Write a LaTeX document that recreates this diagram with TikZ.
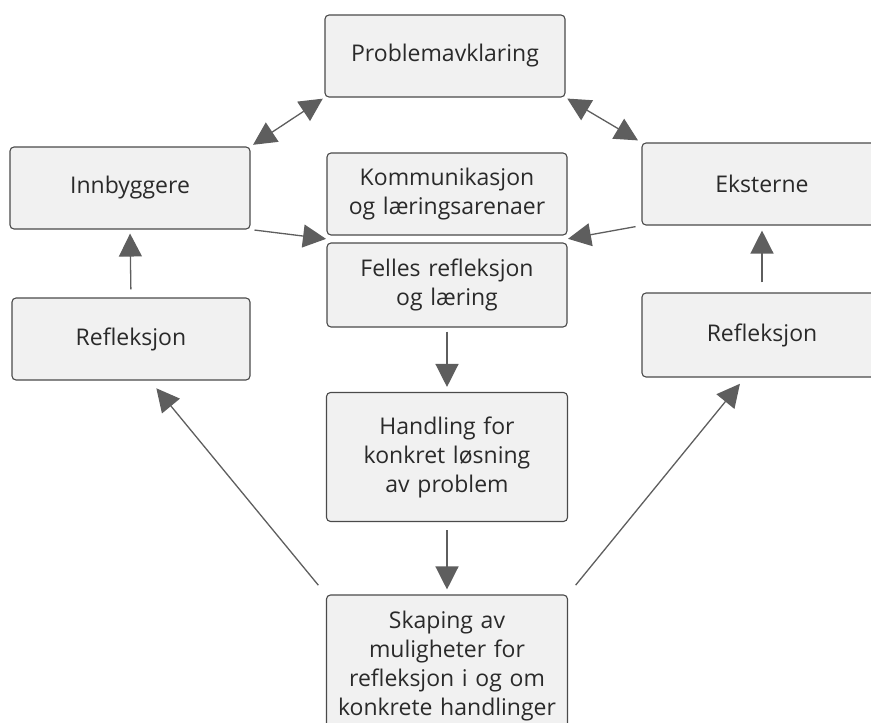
\documentclass[tikz,border=0pt]{standalone}
\usepackage{fontspec}
\setmainfont{Open Sans}
\usetikzlibrary{arrows.meta}
\definecolor{boksfarge}{HTML}{F1F1F1}
\definecolor{linjefarge}{HTML}{5E5E5E}
\definecolor{tekstfarge}{HTML}{2A2A2A}
\begin{document}
\begin{tikzpicture}[x=1pt, y=-1pt,
	boks/.style={draw=tekstfarge!85, line width=1.1pt, fill=boksfarge, rectangle, rounded corners=4pt, minimum width=240pt, text width=234pt, align=center, text=tekstfarge, font=\fontsize{23}{29}\selectfont, inner sep=0pt},
	pil/.style={draw=linjefarge, line width=1.3pt, -{Triangle[length=23pt, width=23pt]}},
	dobbelpil/.style={pil, {Triangle[length=23pt, width=23pt]}-{Triangle[length=23pt, width=23pt]}}]
				\useasboundingbox (0, 0) rectangle (871, 723);
				\node[boks, minimum height=82pt] (prob)at(445, 56) {Problemavklaring};
				\node[boks, minimum height=82pt] (innb)at(130, 188) {Innbyggere};
				\node[boks, minimum height=82pt, minimum width=238pt] (refv)at(131, 339) {Refleksjon};
				\node[boks, minimum height=82pt] (komm)at(447, 194) {Kommunikasjon\\og læringsarenaer};
				\node[boks, minimum height=84pt] (fell)at(447, 285) {Felles refleksjon\\og læring};
				\node[boks, minimum height=82pt] (ekst)at(762, 184) {Eksterne};
				\node[boks, minimum height=84pt] (refh)at(762, 335) {Refleksjon};
				\node[boks, minimum height=129pt, minimum width=241pt] (hand)at(447, 457) {Handling for\\konkret løsning\\av problem};
				\node[boks, minimum height=142pt, minimum width=241pt] (skap)at(447, 666) {Skaping av\\muligheter for\\refleksjon i og om\\konkrete handlinger};
				\coordinate (midtv)at(327, 239);
				\coordinate (midth)at(567, 239);
				\draw[dobbelpil, shorten <=3pt, shorten >=2pt] (innb.north east) -- (prob.south west);
				\draw[dobbelpil, shorten <=2pt, shorten >=4pt] (prob.south east) -- (ekst.north west);
				\draw[pil, shorten <=4pt, shorten >=1pt] (innb.south east) -- (midtv);
				\draw[pil, shorten <=6pt, shorten >=1pt] (ekst.south west) -- (midth);
				\draw[pil, shorten <=8pt, shorten >=4pt] (refv.north) -- (innb.south);
				\draw[pil, shorten <=10pt, shorten >=5pt] (refh.north) -- (ekst.south);
				\draw[pil, shorten <=4pt, shorten >=5pt] (fell.south) -- (hand.north);
				\draw[pil, shorten <=8pt, shorten >=5pt] (hand.south) -- (skap.north);
				\draw[pil, shorten <=12pt, shorten >=10pt] (skap.north west) -- ([xshift=19pt]refv.south);
				\draw[pil, shorten <=12pt, shorten >=8pt] (skap.north east) -- ([xshift=-17pt]refh.south);
			\end{tikzpicture}
\end{document}
